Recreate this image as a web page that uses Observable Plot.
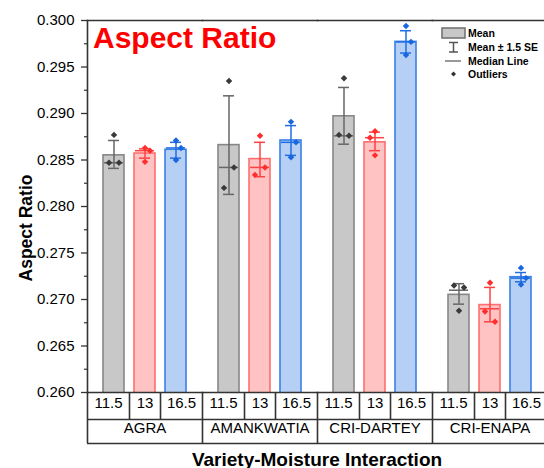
<!DOCTYPE html>
<html><head><meta charset="utf-8">
<script src="https://cdn.jsdelivr.net/npm/d3@7"></script>
<script src="https://cdn.jsdelivr.net/npm/@observablehq/plot@0.6"></script>
<style>
html,body{margin:0;padding:0;background:#fff;overflow:hidden;width:544px;height:468px}
#chart{position:relative;width:548px;height:468px}
</style></head><body><div id="chart"></div>
<script>
// ---- data ----
const varieties = ["AGRA", "AMANKWATIA", "CRI-DARTEY", "CRI-ENAPA"];
const moistures = ["11.5", "13", "16.5"];
// variety-major order: AGRA 11.5, 13, 16.5, AMANKWATIA 11.5, ...
const meanAR   = [0.2855, 0.2857, 0.2861, 0.2866, 0.2851, 0.2871, 0.2897, 0.2869, 0.2977, 0.2705, 0.2694, 0.2724];
const hiAR     = [0.2871, 0.2862, 0.2869, 0.2919, 0.2869, 0.2887, 0.2928, 0.2880, 0.2989, 0.2717, 0.2713, 0.2729];
const loAR     = [0.2841, 0.2852, 0.2852, 0.2813, 0.2832, 0.2855, 0.2867, 0.2860, 0.2965, 0.2695, 0.2676, 0.2719];
const medianAR = [0.2847, 0.2860, 0.2863, 0.2842, 0.2842, 0.2869, 0.2876, 0.2874, 0.2977, 0.2710, 0.2690, 0.2723];
const pointsAR = [
  [0.2877, 0.2847, 0.2847],
  [0.2863, 0.2860, 0.2848],
  [0.2871, 0.2863, 0.2850],
  [0.2935, 0.2842, 0.2820],
  [0.2876, 0.2842, 0.2834],
  [0.2891, 0.2869, 0.2853],
  [0.2938, 0.2877, 0.2876],
  [0.2881, 0.2874, 0.2855],
  [0.2994, 0.2977, 0.2963],
  [0.2715, 0.2713, 0.2688],
  [0.2718, 0.2687, 0.2676],
  [0.2734, 0.2723, 0.2716]
];
// jitter side of each point as seen in the picture (L = left, C = centre, R = right)
const pointSides = [
  ["C","L","R"], ["C","R","C"], ["C","R","C"],
  ["C","R","L"], ["C","R","L"], ["C","R","C"],
  ["C","L","R"], ["C","L","C"], ["C","R","C"],
  ["L","R","C"], ["C","L","R"], ["C","R","C"]
];
const yDomain = [0.260, 0.300];
const yTicks = [0.260, 0.265, 0.270, 0.275, 0.280, 0.285, 0.290, 0.295, 0.300];
const yMinorTicks = [0.2625, 0.2675, 0.2725, 0.2775, 0.2825, 0.2875, 0.2925, 0.2975];
const chartTitle = "Aspect Ratio";
const yTitle = "Aspect Ratio";
const xTitle = "Variety-Moisture Interaction";
const legendLabels = ["Mean", "Mean \u00b1 1.5 SE", "Median Line", "Outliers"];

// ---- styles ----
const fillOf   = {"11.5": "#c8c8c8", "13": "#ffc3c3", "16.5": "#b6cff4"};
const edgeOf   = {"11.5": "#878787", "13": "#ff6f6f", "16.5": "#3a80e6"};
const markOf   = {"11.5": "#666666", "13": "#ff4040", "16.5": "#1f6fe3"};
const dotOf    = {"11.5": "#3a3a3a", "13": "#ff2e2e", "16.5": "#1a66de"};
const FONT = "'Liberation Sans', Arial, Helvetica, sans-serif";
const LINE = "#333333";

// ---- tables ----
const rows = [];
varieties.forEach((v, i) => moistures.forEach((m, j) => {
  const k = i * 3 + j;
  rows.push({variety: v, moisture: m, mean: meanAR[k], lo: loAR[k], hi: hiAR[k], median: medianAR[k]});
}));
const pts = [];
varieties.forEach((v, i) => moistures.forEach((m, j) => {
  const k = i * 3 + j;
  pointsAR[k].forEach((val, p) => pts.push({variety: v, moisture: m, value: val, side: pointSides[k][p]}));
}));

const W = 548, H = 468;
const step = 31; // x band step (px)
const dotMark = (side, dx) => Plot.dot(pts.filter(d => d.side === side), {
  fx: "variety", x: "moisture", y: "value", symbol: "diamond2", r: 2.9,
  fill: d => dotOf[d.moisture], stroke: "none", dx
});

const plot = Plot.plot({
  width: W, height: H,
  marginLeft: 87, marginRight: 1, marginTop: 20, marginBottom: 76,
  style: {fontFamily: FONT, fontSize: "15px", color: "#000", background: "#fff", overflow: "visible"},
  fx: {domain: varieties, padding: 0, round: false, axis: null, label: null},
  x: {domain: moistures, paddingInner: 10 / 31, paddingOuter: 0.516, round: false, axis: null, label: null},
  y: {domain: yDomain, axis: null, label: null},
  color: {type: "identity"},
  marks: [
    // bars (mean)
    Plot.barY(rows, {fx: "variety", x: "moisture", y: "mean", clip: true,
      fill: d => fillOf[d.moisture], stroke: d => edgeOf[d.moisture], strokeWidth: 1.6}),
    // median line
    Plot.tickY(rows, {fx: "variety", x: "moisture", y: "median", stroke: d => markOf[d.moisture], strokeWidth: 1.5, inset: 1}),
    // mean ± 1.5 SE
    Plot.ruleX(rows, {fx: "variety", x: "moisture", y1: "lo", y2: "hi", stroke: d => markOf[d.moisture], strokeWidth: 1.5}),
    Plot.tickY(rows, {fx: "variety", x: "moisture", y: "hi", stroke: d => markOf[d.moisture], strokeWidth: 1.5, inset: 5}),
    Plot.tickY(rows, {fx: "variety", x: "moisture", y: "lo", stroke: d => markOf[d.moisture], strokeWidth: 1.5, inset: 5}),
    // data points
    dotMark("C", 0), dotMark("L", -5), dotMark("R", 5),
    // frame
    Plot.frame({anchor: "top", stroke: LINE, strokeWidth: 1.6}),
    Plot.frame({anchor: "bottom", stroke: LINE, strokeWidth: 1.6}),
    Plot.frame({anchor: "left", facetAnchor: "left", stroke: LINE, strokeWidth: 1.6}),
    Plot.frame({anchor: "right", facetAnchor: "right", stroke: LINE, strokeWidth: 1.6}),
    // y axis
    Plot.axisY({ticks: yTicks, tickFormat: d3.format(".3f"), tickSize: 6, tickPadding: 7, fontSize: 15, stroke: LINE, strokeWidth: 1.3, label: null}),
    Plot.axisY({ticks: yMinorTicks, tickFormat: () => "", tickSize: 3, stroke: LINE, strokeWidth: 1.2, label: null}),
    // category table below the plot
    Plot.ruleY([yDomain[0]], {dy: 27, stroke: LINE, strokeWidth: 1.6}),
    Plot.ruleY([yDomain[0]], {dy: 51, stroke: LINE, strokeWidth: 1.6}),
    Plot.axisX({ticks: ["13", "16.5"], tickSize: 27, dx: -step / 2, tickFormat: () => "", stroke: LINE, strokeWidth: 1.6, label: null}),
    Plot.axisX({ticks: ["11.5"], tickSize: 51, dx: -26.5, tickFormat: () => "", stroke: LINE, strokeWidth: 1.6, label: null}),
    Plot.text(rows.filter(d => d.moisture === "11.5"), {fx: "variety", x: "moisture", text: "moisture", frameAnchor: "bottom", dy: 15, dx: -5.5, fontSize: 15}),
    Plot.text(rows.filter(d => d.moisture === "13"), {fx: "variety", x: "moisture", text: "moisture", frameAnchor: "bottom", dy: 15, fontSize: 15}),
    Plot.text(rows.filter(d => d.moisture === "16.5"), {fx: "variety", x: "moisture", text: "moisture", frameAnchor: "bottom", dy: 15, dx: 5.5, fontSize: 15}),
    Plot.text(rows.filter(d => d.moisture === "13"), {fx: "variety", x: "moisture", text: "variety", frameAnchor: "bottom", dy: 40, fontSize: 15})
  ]
});

// ---- titles and legend ----
const svg = d3.select(plot);
svg.append("text").text(chartTitle)
  .attr("x", 93).attr("y", 48).attr("fill", "#ff0000").attr("text-anchor", "start")
  .attr("font-family", FONT).attr("font-weight", "bold").attr("font-size", 30);
svg.append("text").text(yTitle)
  .attr("transform", "translate(32,228) rotate(-90)").attr("text-anchor", "middle")
  .attr("font-family", FONT).attr("font-weight", "bold").attr("font-size", 17.5).attr("fill", "#000");
svg.append("text").text(xTitle)
  .attr("x", 317).attr("y", 466).attr("text-anchor", "middle")
  .attr("font-family", FONT).attr("font-weight", "bold").attr("font-size", 19).attr("fill", "#000");

const lg = svg.append("g").attr("font-family", FONT).attr("font-weight", "bold").attr("font-size", 10.5)
  .attr("fill", "#000").attr("text-anchor", "start");
lg.append("rect").attr("x", 442).attr("y", 28).attr("width", 23).attr("height", 10)
  .attr("fill", "#c8c8c8").attr("stroke", "#6e6e6e").attr("stroke-width", 1.5);
lg.append("path").attr("d", "M449,42.5H458M453.5,42.5V52M449,52H458").attr("stroke", "#555").attr("stroke-width", 1.5).attr("fill", "none");
lg.append("path").attr("d", "M445,61H461").attr("stroke", "#777").attr("stroke-width", 1.5);
lg.append("path").attr("d", "M453.5,71.5L456,74L453.5,76.5L451,74Z").attr("fill", "#333");
[33, 47, 61, 74].forEach((y, i) => lg.append("text").text(legendLabels[i])
  .attr("x", 468).attr("y", y).attr("dy", "0.35em").attr("text-anchor", "start"));

document.getElementById("chart").appendChild(plot);
</script>
</body></html>
